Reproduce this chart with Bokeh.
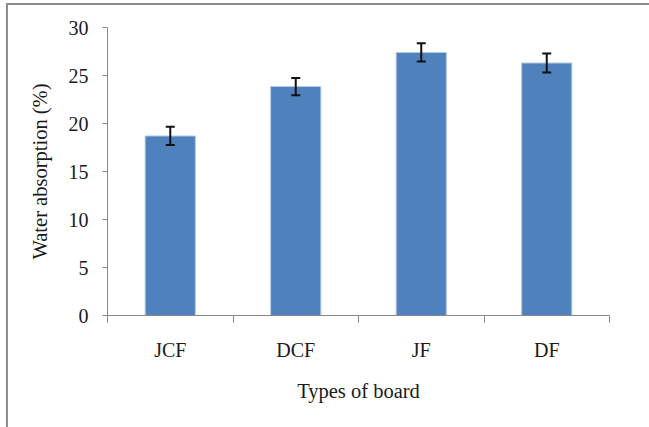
from bokeh.plotting import figure
from bokeh.models import ColumnDataSource, FixedTicker, Whisker, TeeHead, Range1d
from bokeh.embed import file_html
from bokeh.resources import INLINE

categories = ["JCF", "DCF", "JF", "DF"]
values = [18.7, 23.85, 27.4, 26.3]
errors = [0.95, 0.9, 0.95, 1.0]
y_ticks = [0, 5, 10, 15, 20, 25, 30]

xs = [i + 0.5 for i in range(len(categories))]
src = ColumnDataSource(dict(
    x=xs, top=values,
    upper=[v + e for v, e in zip(values, errors)],
    lower=[v - e for v, e in zip(values, errors)],
))

FONT = "Liberation Serif"
TXT = "#1a1a1a"
AX = "#878787"

p = figure(width=649, height=427, output_backend="svg", toolbar_location=None,
           x_range=Range1d(0, len(categories)), y_range=Range1d(0, 30),
           min_border_left=107, min_border_right=40, min_border_top=27, min_border_bottom=112)
p.outline_line_color = None
p.border_fill_color = None
p.background_fill_color = "white"
p.styles = {
    "background": "linear-gradient(#8c8c8c,#8c8c8c) 6px 3px / 2px 100% no-repeat, "
                  "linear-gradient(#8c8c8c,#8c8c8c) 6px 3px / 100% 2px no-repeat, white",
}
p.xgrid.visible = False
p.ygrid.visible = False

p.vbar(x="x", top="top", width=0.4, bottom=0, source=src,
       fill_color="#4F81BD", line_color="#b4c9e4", line_width=1)

w = Whisker(base="x", upper="upper", lower="lower", source=src,
            line_color="#111111", line_width=2, level="overlay",
            upper_head=TeeHead(size=9, line_width=2, line_color="#111111"),
            lower_head=TeeHead(size=9, line_width=2, line_color="#111111"))
p.add_layout(w)

xa = p.xaxis[0]
xa.ticker = FixedTicker(ticks=xs, minor_ticks=list(range(len(categories) + 1)))
xa.major_label_overrides = {x: c for x, c in zip(xs, categories)}
xa.major_tick_out = 0
xa.major_tick_in = 0
xa.minor_tick_out = 7
xa.minor_tick_in = 0
xa.major_label_standoff = 16
xa.axis_label = "Types of board"
xa.axis_label_standoff = 16

ya = p.yaxis[0]
ya.ticker = FixedTicker(ticks=y_ticks)
ya.major_tick_out = 5
ya.major_tick_in = 0
ya.minor_tick_out = 0
ya.minor_tick_in = 0
ya.major_label_standoff = 14
ya.axis_label = "Water absorption (%)"
ya.axis_label_standoff = 15

for a in (xa, ya):
    a.axis_line_color = AX
    a.major_tick_line_color = AX
    a.minor_tick_line_color = AX
    a.major_label_text_font = FONT
    a.major_label_text_font_size = "20px"
    a.major_label_text_color = TXT
    a.axis_label_text_font = FONT
    a.axis_label_text_font_size = "20.5px"
    a.axis_label_text_font_style = "normal"
    a.axis_label_text_color = TXT

open("out.html", "w").write(file_html(p, INLINE))
